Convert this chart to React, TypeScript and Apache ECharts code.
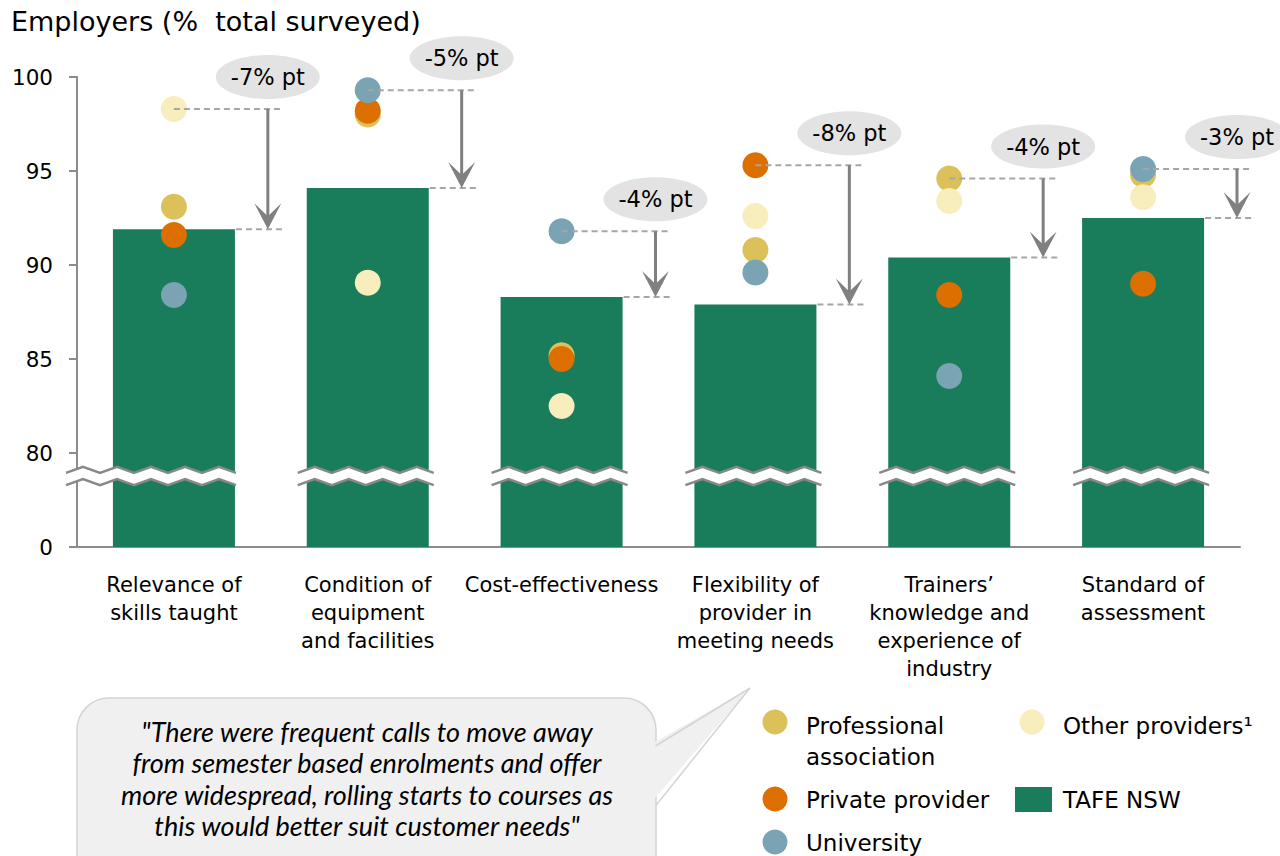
import React, { useEffect, useRef } from "react";
import * as echarts from "echarts";

const categories = [
  "Relevance of\nskills taught",
  "Condition of\nequipment\nand facilities",
  "Cost-effectiveness",
  "Flexibility of\nprovider in\nmeeting needs",
  "Trainers’\nknowledge and\nexperience of\nindustry",
  "Standard of\nassessment",
];
const tafe = [91.9, 94.1, 88.3, 87.9, 90.4, 92.5];
const professional = [93.1, 98.0, 85.2, 90.8, 94.6, 94.8];
const privateProvider = [91.6, 98.2, 85.0, 95.3, 88.4, 89.0];
const university = [88.4, 99.3, 91.8, 89.6, 84.1, 95.1];
const otherProviders = [98.3, 89.05, 82.5, 92.6, 93.4, 93.6];
const gapLabels = ["-7% pt", "-5% pt", "-4% pt", "-8% pt", "-4% pt", "-3% pt"];
const yTicks = [75, 80, 85, 90, 95, 100];
const breakHi = 79.1;
const breakLo = 78.45;

const COLORS = {
  tafe: "#197c5a",
  professional: "#dcc05a",
  private: "#dd6e00",
  university: "#7aa3b3",
  other: "#f8edbd",
};

const FONT = "DejaVu Sans";
const BAR_W = 122;

export default function App() {
  const ref = useRef<HTMLDivElement>(null);
  useEffect(() => {
    if (!ref.current) return;
    const chart = echarts.init(ref.current, null, { renderer: "svg" });
    const tops = categories.map((_, i) =>
      Math.max(professional[i], privateProvider[i], university[i], otherProviders[i])
    );
    const axisColor = "#8c8c8c";
    const scatter = (name: string, data: number[], color: string) => ({
      name,
      type: "scatter",
      data,
      symbol: "circle",
      symbolSize: 26,
      itemStyle: { color, opacity: 1 },
      z: 3,
    });
    const option: any = {
      animation: false,
      title: {
        text: "Employers (%  total surveyed)",
        left: 6,
        top: 3,
        textStyle: { fontFamily: FONT, fontSize: 27, fontWeight: "normal", color: "#000" },
      },
      grid: { left: 77, right: 40, top: 77, bottom: 309 },
      xAxis: {
        type: "category",
        data: categories,
        axisLine: { lineStyle: { color: axisColor, width: 2 } },
        axisTick: { length: 8, lineStyle: { color: axisColor, width: 2 } },
        axisLabel: {
          interval: 0,
          color: "#000",
          fontFamily: FONT,
          fontSize: 21,
          lineHeight: 28,
          margin: 24,
        },
      },
      yAxis: {
        type: "value",
        min: yTicks[0],
        max: yTicks[yTicks.length - 1],
        interval: 5,
        splitLine: { show: false },
        axisLine: { show: true, lineStyle: { color: axisColor, width: 2 } },
        axisTick: { show: true, length: 8, lineStyle: { color: axisColor, width: 2 } },
        axisLabel: {
          formatter: (v: number) => (v === yTicks[0] ? "0" : String(v)),
          color: "#000",
          fontFamily: FONT,
          fontSize: 21.5,
          margin: 24,
        },
      },
      series: [
        {
          name: "TAFE NSW",
          type: "bar",
          data: tafe,
          barWidth: BAR_W,
          itemStyle: { color: COLORS.tafe },
          z: 2,
        },
        scatter("Professional association", professional, COLORS.professional),
        scatter("Other providers", otherProviders, COLORS.other),
        scatter("Private provider", privateProvider, COLORS.private),
        scatter("University", university, COLORS.university),
        {
          type: "custom",
          z: 4,
          data: categories.map((_, i) => [i, breakHi, breakLo]),
          encode: { x: 0, y: [1, 2] },
          renderItem: (params: any, api: any) => {
            const i = api.value(0);
            const hi = api.coord([i, api.value(1)]);
            const lo = api.coord([i, api.value(2)]);
            const bw = api.size([1, 0])[0];
            let left = hi[0] - BAR_W / 2 - 9;
            if (i === 0) left = hi[0] - bw / 2 - 11;
            const right = hi[0] + BAR_W / 2 + 6;
            const step = 17;
            const amp = 3;
            const top: number[][] = [];
            const bot: number[][] = [];
            let k = 0;
            for (let x = left; x <= right + 0.1; x += step, k++) {
              const off = k % 2 === 0 ? amp : -amp;
              top.push([x, hi[1] + off]);
              bot.push([x, lo[1] + off]);
            }
            const poly = top.concat(bot.slice().reverse());
            return {
              type: "group",
              children: [
                { type: "polygon", shape: { points: poly }, style: { fill: "#fff" } },
                {
                  type: "polyline",
                  shape: { points: top },
                  style: { stroke: "#888", lineWidth: 2.5, fill: "none" },
                },
                {
                  type: "polyline",
                  shape: { points: bot },
                  style: { stroke: "#888", lineWidth: 2.5, fill: "none" },
                },
              ],
            };
          },
        },
        {
          type: "custom",
          z: 5,
          data: categories.map((_, i) => [i, tops[i], tafe[i]]),
          encode: { x: 0, y: [1, 2] },
          renderItem: (params: any, api: any) => {
            const i = api.value(0);
            const t = api.coord([i, api.value(1)]);
            const b = api.coord([i, api.value(2)]);
            const bw = api.size([1, 0])[0];
            const ax = t[0] + bw / 2 - 3;
            const ty = t[1];
            const by = b[1];
            const barRight = t[0] + BAR_W / 2;
            const dash = { stroke: "#a6a6a6", lineWidth: 2, lineDash: [6, 4] };
            return {
              type: "group",
              children: [
                { type: "line", shape: { x1: t[0], y1: ty, x2: ax + 13, y2: ty }, style: dash },
                { type: "line", shape: { x1: barRight + 1, y1: by, x2: ax + 15, y2: by }, style: dash },
                {
                  type: "line",
                  shape: { x1: ax, y1: ty, x2: ax, y2: by - 12 },
                  style: { stroke: "#808080", lineWidth: 3 },
                },
                {
                  type: "polygon",
                  shape: {
                    points: [
                      [ax, by],
                      [ax - 13.5, by - 26],
                      [ax, by - 13],
                      [ax + 13.5, by - 26],
                    ],
                  },
                  style: { fill: "#808080" },
                },
                {
                  type: "ellipse",
                  shape: { cx: ax, cy: ty - 32, rx: 52, ry: 22 },
                  style: { fill: "#e3e3e3" },
                },
                {
                  type: "text",
                  style: {
                    text: gapLabels[params.dataIndex],
                    x: ax,
                    y: ty - 32,
                    align: "center",
                    verticalAlign: "middle",
                    fontFamily: FONT,
                    fontSize: 22.5,
                    fill: "#000",
                  },
                },
              ],
            };
          },
        },
      ],
      graphic: [
        {
          type: "rect",
          shape: { x: 77, y: 698, width: 579, height: 210, r: 32 },
          style: { fill: "#f0f0f0", stroke: "#d4d4d4", lineWidth: 1.5 },
          z: 1,
        },
        {
          type: "polygon",
          shape: { points: [[648, 746], [750, 688], [648, 806]] },
          style: { fill: "#f0f0f0" },
          z: 1,
        },
        {
          type: "polyline",
          shape: { points: [[655.5, 746], [750, 688], [655.5, 806]] },
          style: { stroke: "#d4d4d4", lineWidth: 1.5, fill: "none" },
          z: 1,
        },
        {
          type: "text",
          z: 2,
          style: {
            text:
              '"There were frequent calls to move away\nfrom semester based enrolments and offer\nmore widespread, rolling starts to courses as\nthis would better suit customer needs"',
            x: 367,
            y: 716,
            align: "center",
            verticalAlign: "top",
            fontFamily: "Lato",
            fontStyle: "italic",
            fontSize: 27,
            lineHeight: 31.3,
            fill: "#000",
          },
        },
        { type: "circle", shape: { cx: 775, cy: 722, r: 12.5 }, style: { fill: COLORS.professional } },
        {
          type: "text",
          style: {
            text: "Professional\nassociation",
            x: 806,
            y: 710.5,
            verticalAlign: "top",
            lineHeight: 31,
            fontFamily: FONT,
            fontSize: 23,
            fill: "#000",
          },
        },
        { type: "circle", shape: { cx: 775, cy: 799, r: 12.5 }, style: { fill: COLORS.private } },
        {
          type: "text",
          style: { text: "Private provider", x: 806, y: 800, verticalAlign: "middle", fontFamily: FONT, fontSize: 23, fill: "#000" },
        },
        { type: "circle", shape: { cx: 775, cy: 842, r: 12.5 }, style: { fill: COLORS.university } },
        {
          type: "text",
          style: { text: "University", x: 806, y: 843, verticalAlign: "middle", fontFamily: FONT, fontSize: 23, fill: "#000" },
        },
        { type: "circle", shape: { cx: 1032, cy: 722, r: 12.5 }, style: { fill: COLORS.other } },
        {
          type: "text",
          style: { text: "Other providers¹", x: 1063, y: 726, verticalAlign: "middle", fontFamily: FONT, fontSize: 23, fill: "#000" },
        },
        { type: "rect", shape: { x: 1015, y: 787, width: 37, height: 25 }, style: { fill: COLORS.tafe } },
        {
          type: "text",
          style: { text: "TAFE NSW", x: 1063, y: 800, verticalAlign: "middle", fontFamily: FONT, fontSize: 23, fill: "#000" },
        },
      ],
    };
    chart.setOption(option);
    return () => chart.dispose();
  }, []);
  return (
    <div
      ref={ref}
      style={{ position: "fixed", left: 0, top: 0, width: 1280, height: 856, background: "#fff" }}
    />
  );
}
